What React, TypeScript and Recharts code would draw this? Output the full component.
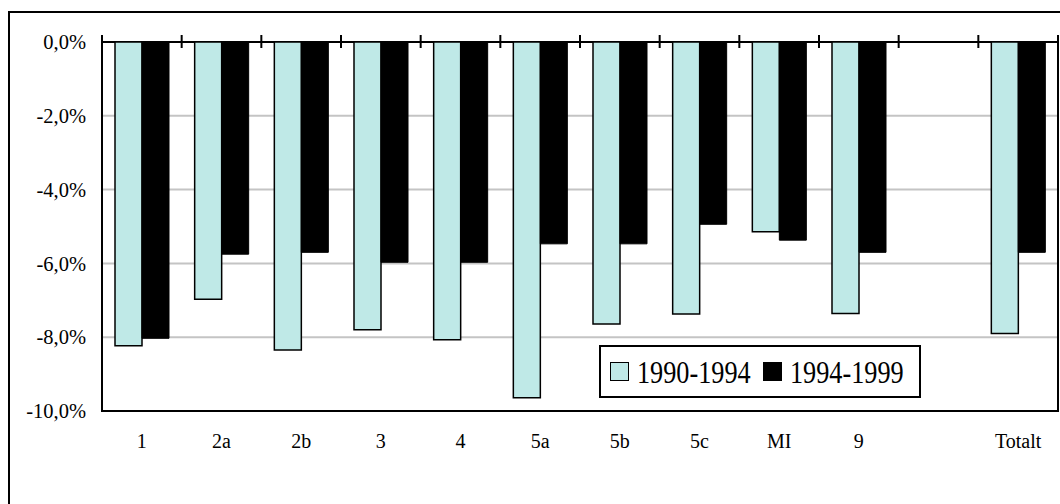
import { BarChart, Bar, XAxis, YAxis, CartesianGrid, Legend, ReferenceLine, ReferenceArea } from 'recharts';

const categories = ['1', '2a', '2b', '3', '4', '5a', '5b', '5c', 'MI', '9', '', 'Totalt'];
const period1 = [-8.23, -6.97, -8.35, -7.8, -8.07, -9.64, -7.64, -7.37, -5.14, -7.36, null, -7.9];
const period2 = [-8.03, -5.75, -5.7, -5.97, -5.97, -5.47, -5.47, -4.94, -5.37, -5.7, null, -5.7];
const seriesNames = ['1990-1994', '1994-1999'];
const yTicks = [0, -2, -4, -6, -8, -10];

const LIGHT = '#bfe9e7';
const FONT = "'Liberation Serif', 'Times New Roman', serif";

const data = categories.map((name, i) => ({ name, a: period1[i], b: period2[i] }));

const fmtPct = (v: number) => `${v.toFixed(1).replace('.', ',')}%`;

// short tick crossing the zero line, drawn at the top end of a vertical reference line
function TickMark(props: any) {
    const { x1, y1, y2 } = props;
    const top = Math.min(y1, y2);
    return <line x1={x1} x2={x1} y1={top - 7} y2={top + 6} stroke="#000" strokeWidth={2} />;
}

function LegendBox(props: any) {
    const items = props.payload || [];
    return (
        <div
            style={{
                boxSizing: 'border-box',
                width: 322,
                height: 53,
                border: '2px solid #000',
                background: '#fff',
                display: 'flex',
                alignItems: 'center',
                paddingLeft: 9,
                fontFamily: FONT,
                fontSize: 32,
                color: '#000',
            }}
        >
            {items.map((it: any, i: number) => (
                <div key={i} style={{ display: 'flex', alignItems: 'center', marginRight: 9 }}>
                    <span
                        style={{
                            display: 'inline-block',
                            boxSizing: 'border-box',
                            width: 19,
                            height: 19,
                            background: it.color,
                            border: '1.5px solid #000',
                            marginRight: 8,
                        }}
                    />
                    {/* the original legend font is narrow: squeeze the text a bit */}
                    <span style={{ display: 'inline-block', width: 117, whiteSpace: 'nowrap', lineHeight: 1 }}>
                        <span style={{ display: 'inline-block', transform: 'scaleX(0.82)', transformOrigin: 'left center' }}>
                            {it.value}
                        </span>
                    </span>
                </div>
            ))}
        </div>
    );
}

export default function App() {
    return (
        <div style={{ position: 'relative', width: 1060, height: 504, overflow: 'hidden', background: '#fff' }}>
            <style>{'body{margin:0}'}</style>
            {/* chart area frame */}
            <div
                style={{
                    position: 'absolute',
                    left: 8,
                    top: 11,
                    width: 1080,
                    height: 540,
                    border: '2px solid #000',
                    boxSizing: 'border-box',
                }}
            />
            <div style={{ position: 'absolute', left: 0, top: 0 }}>
                <BarChart
                    width={1060}
                    height={504}
                    data={data}
                    margin={{ top: 42, right: 2, bottom: 33, left: 0 }}
                    barCategoryGap={13}
                    barGap={0}
                >
                    <CartesianGrid vertical={false} stroke="#c4c4c4" strokeWidth={2} />
                    <XAxis
                        dataKey="name"
                        height={60}
                        interval={0}
                        axisLine={{ stroke: '#000', strokeWidth: 2 }}
                        tickLine={false}
                        tickSize={0}
                        tickMargin={23}
                        tick={{ fontSize: 20, fill: '#000', fontFamily: FONT }}
                    />
                    <YAxis
                        domain={[-10, 0]}
                        ticks={yTicks}
                        interval={0}
                        width={102}
                        allowDataOverflow
                        axisLine={{ stroke: '#000', strokeWidth: 2 }}
                        tickLine={false}
                        tickSize={0}
                        tickMargin={16}
                        tickFormatter={fmtPct}
                        tick={{ fontSize: 20.5, fill: '#000', fontFamily: FONT }}
                    />
                    {/* plot frame: zero line on top, right border */}
                    <ReferenceArea y1={0} y2={-10} fill="none" fillOpacity={0} stroke="#000" strokeWidth={2} ifOverflow="visible" />
                    {categories.map((c, i) => (
                        <ReferenceLine key={i} x={c} position="start" shape={TickMark} ifOverflow="visible" />
                    ))}
                    <ReferenceLine x={categories[categories.length - 1]} position="end" shape={TickMark} ifOverflow="visible" />
                    <Legend
                        layout="vertical"
                        align="center"
                        verticalAlign="middle"
                        content={LegendBox}
                        wrapperStyle={{ left: 599, top: 345, width: 322, height: 53 }}
                    />
                    <Bar dataKey="a" name={seriesNames[0]} fill={LIGHT} stroke="#000" strokeWidth={1.5} isAnimationActive={false} />
                    <Bar dataKey="b" name={seriesNames[1]} fill="#000" stroke="#000" strokeWidth={1} isAnimationActive={false} />
                </BarChart>
            </div>
        </div>
    );
}
